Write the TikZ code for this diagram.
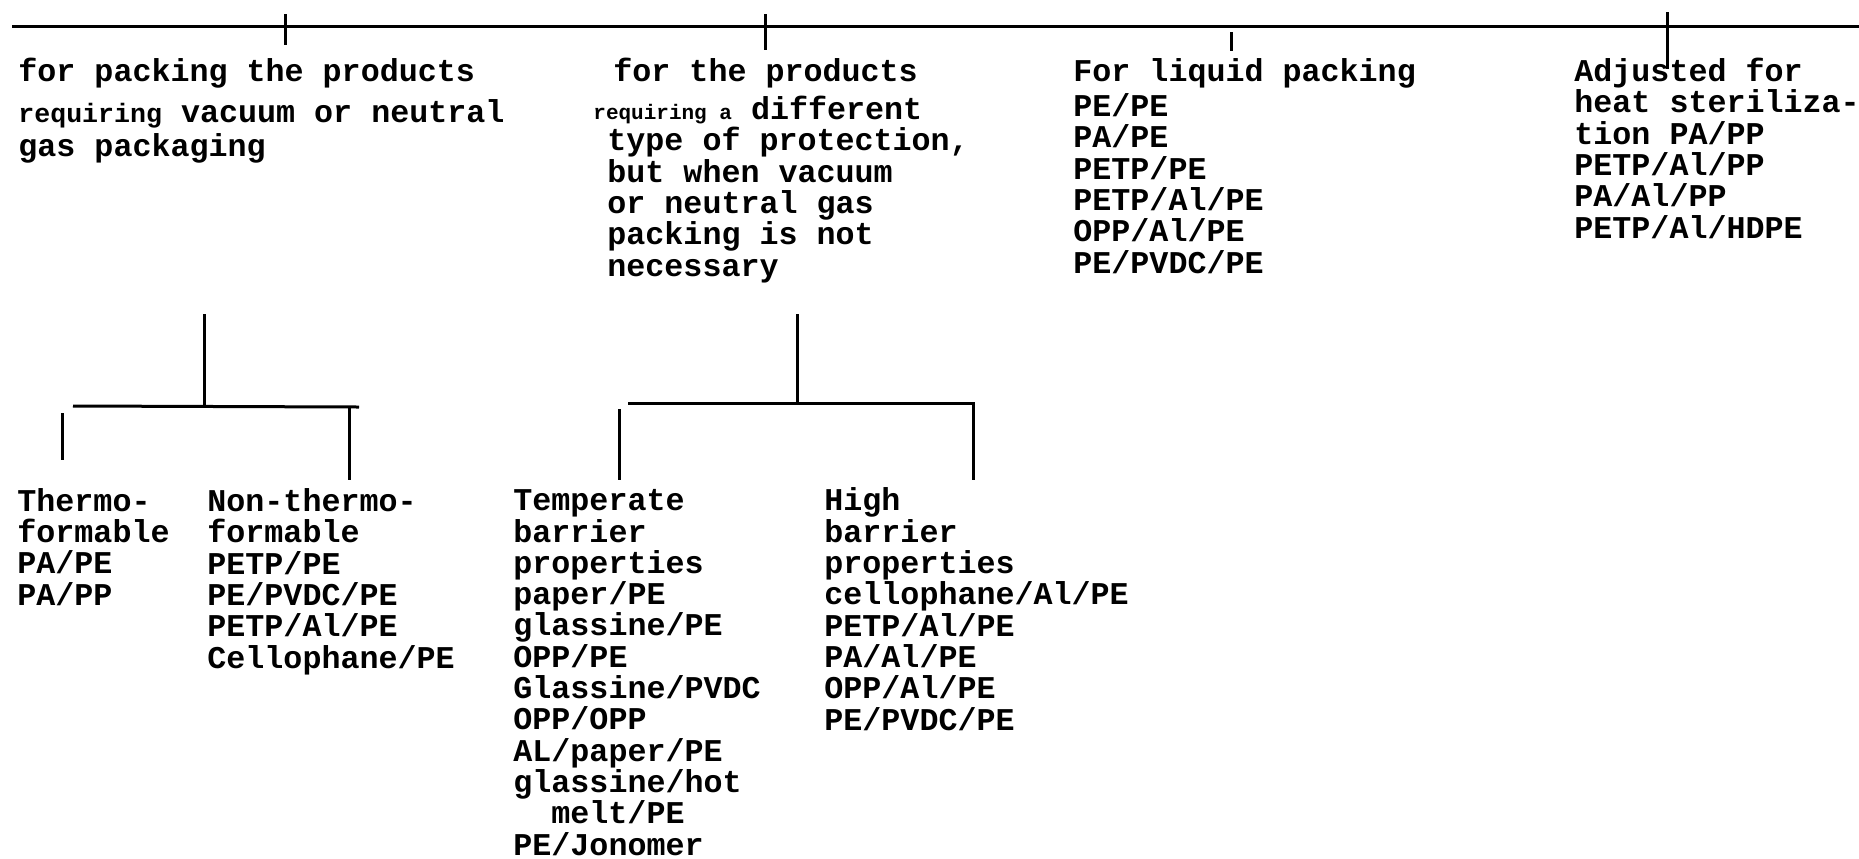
\documentclass[tikz,border=0pt]{standalone}
\usepackage{fontspec}
\setmonofont{Liberation Mono}
\usetikzlibrary{positioning}

\newcommand{\typefont}{\ttfamily\bfseries\fontsize{15.85pt}{15.65pt}\selectfont}
\newcommand{\reqsize}{\fontsize{13.3pt}{13.3pt}\selectfont}
\newcommand{\reqtiny}{\fontsize{10.5pt}{10.5pt}\selectfont}

\begin{document}
\begin{tikzpicture}[x=0.5pt, y=-0.5pt,
  txt/.style={anchor=base west, inner sep=0pt, align=left, font=\typefont},
  bar/.style={line width=1.5pt}
]
\useasboundingbox (0,0) rectangle (1859,858);

% top rail and its ticks
\coordinate (railL) at (12,26);
\coordinate (railR) at (1859,26);
\draw[bar] (railL) -- (railR);
\coordinate (tickAt) at (285,14);  \coordinate (tickAb) at (285,45);
\coordinate (tickBt) at (765,14);  \coordinate (tickBb) at (765,50);
\coordinate (tickCt) at (1231,32); \coordinate (tickCb) at (1231,51);
\coordinate (tickDt) at (1667,12); \coordinate (tickDb) at (1667,69);
\draw[bar] (tickAt) -- (tickAb);
\draw[bar] (tickBt) -- (tickBb);
\draw[bar] (tickCt) -- (tickCb);
\draw[bar] (tickDt) -- (tickDb);

% main groups (placed by the baseline of their last line)
\node[txt] (vacuum) at (18,156) {for packing the products\\[5pt]{\reqsize requiring} vacuum or neutral\\[1pt]gas packaging};
\node[txt] (other) at (607,276) {\hspace*{3pt}for the products\\[3.5pt]\hspace*{-7pt}{\reqtiny requiring a} different\\type of protection,\\but when vacuum\\or neutral gas\\packing is not\\necessary};
\node[txt] (liquid) at (1073,273) {For liquid packing\\[2pt]PE/PE\\PA/PE\\PETP/PE\\PETP/Al/PE\\OPP/Al/PE\\PE/PVDC/PE};
\node[txt] (sterile) at (1574,238) {Adjusted for\\heat steriliza-\\tion PA/PP\\PETP/Al/PP\\PA/Al/PP\\PETP/Al/HDPE};

% fork under the vacuum group
\coordinate (stemAt) at (204,314);
\coordinate (stemAb) at (204,407);
\coordinate (barAl) at (73,406);
\coordinate (barAr) at (359,407);
\coordinate (dropAlt) at (62,413); \coordinate (dropAlb) at (62,460);
\coordinate (dropArt) at (349,407); \coordinate (dropArb) at (349,480);
\draw[bar] (stemAt) -- (stemAb);
\draw[bar] (barAl) -- (barAr);
\draw[bar] (dropAlt) -- (dropAlb);
\draw[bar] (dropArt) -- (dropArb);

% fork under the other group
\coordinate (stemBt) at (797,314);
\coordinate (stemBb) at (797,403);
\coordinate (barBl) at (628,403);
\coordinate (barBr) at (975,403);
\coordinate (dropBlt) at (619,409); \coordinate (dropBlb) at (619,480);
\coordinate (dropBrt) at (973,403); \coordinate (dropBrb) at (973,480);
\draw[bar] (stemBt) -- (stemBb);
\draw[bar] (barBl) -- (barBr);
\draw[bar] (dropBlt) -- (dropBlb);
\draw[bar] (dropBrt) -- (dropBrb);

% sub groups
\node[txt] (thermo) at (17,605) {Thermo-\\formable\\PA/PE\\PA/PP};
\node[txt] (nonthermo) at (207,668) {Non-thermo-\\formable\\PETP/PE\\PE/PVDC/PE\\PETP/Al/PE\\Cellophane/PE};
\node[txt] (temperate) at (513,855) {Temperate\\barrier\\properties\\paper/PE\\glassine/PE\\OPP/PE\\Glassine/PVDC\\OPP/OPP\\AL/paper/PE\\glassine/hot\\\hspace*{19pt}melt/PE\\PE/Jonomer};
\node[txt] (high) at (824,730) {High\\barrier\\properties\\cellophane/Al/PE\\PETP/Al/PE\\PA/Al/PE\\OPP/Al/PE\\PE/PVDC/PE};
\end{tikzpicture}
\end{document}
